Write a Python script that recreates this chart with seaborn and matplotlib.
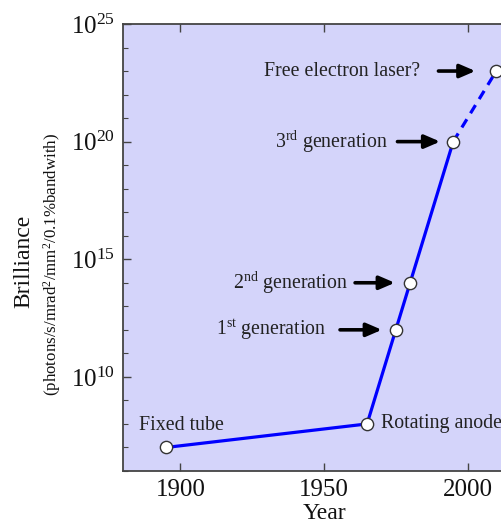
import matplotlib
matplotlib.use("Agg")
import matplotlib.pyplot as plt
import seaborn as sns
import numpy as np
import pandas as pd
from matplotlib.ticker import FixedLocator, LogFormatterMathtext, NullFormatter

# ---- data ----
years = [1895, 1965, 1975, 1980, 1995]
brilliance = [1e7, 1e8, 1e12, 1e14, 1e20]
proj_years = [1995, 2010]
proj_brilliance = [1e20, 1e23]
point_labels = ["Fixed tube", "Rotating anode", r"1$^{\rm st}$ generation",
                r"2$^{\rm nd}$ generation", r"3$^{\rm rd}$ generation",
                "Free electron laser?"]
x_ticks = [1900, 1950, 2000]
y_major = [1e10, 1e15, 1e20, 1e25]

sns.set_style("ticks", {"xtick.direction": "in", "ytick.direction": "in"})
plt.rcParams["font.family"] = ["Liberation Serif", "DejaVu Serif"]
plt.rcParams["mathtext.fontset"] = "custom"
plt.rcParams["mathtext.rm"] = "Liberation Serif"
plt.rcParams["mathtext.it"] = "Liberation Serif:italic"
plt.rcParams["mathtext.bf"] = "Liberation Serif:bold"

fig = plt.figure(figsize=(5.02, 5.26), dpi=100)
ax = fig.add_axes([0.245, 0.1046, 0.8008, 0.8498])
ax.set_facecolor("#d4d4fa")

df = pd.DataFrame({"year": years, "b": brilliance})
dfp = pd.DataFrame({"year": proj_years, "b": proj_brilliance})
sns.lineplot(data=df, x="year", y="b", ax=ax, color="#0000ff", lw=2.3, zorder=2)
sns.lineplot(data=dfp, x="year", y="b", ax=ax, color="#0000ff", lw=2.3,
             linestyle=(0, (3, 2.2)), zorder=2)
allx = years + proj_years[1:]
ally = brilliance + proj_brilliance[1:]
sns.scatterplot(x=allx, y=ally, ax=ax, s=78, color="white", edgecolor="#333333",
                linewidth=1.0, zorder=3)

ax.set_yscale("log")
ax.set_xlim(1880, 2020)
ax.set_ylim(1e6, 1e25)
ax.set_xticks(x_ticks)
ax.set_xticklabels([str(t) for t in x_ticks])
ax.yaxis.set_major_locator(FixedLocator(y_major))
ax.yaxis.set_major_formatter(LogFormatterMathtext())
ax.yaxis.set_minor_locator(FixedLocator([10.0 ** k for k in range(6, 25)]))
ax.yaxis.set_minor_formatter(NullFormatter())
ax.tick_params(axis="both", which="major", labelsize=18, length=6, width=1,
               color="#444444", labelcolor="#111111", top=True, right=True, pad=6)
ax.tick_params(axis="y", which="minor", length=3.5, width=0.8, color="#444444", right=True)
for s in ax.spines.values():
    s.set_color("#444444")
    s.set_linewidth(1.3)

ax.set_xlabel("Year", fontsize=17, labelpad=1, color="#111111")
ax.set_ylabel("")
fig.text(0.047, 0.503, "Brilliance", rotation=90, fontsize=17, ha="center", va="center", color="#111111")
fig.text(0.103, 0.497, r"(photons/s/mrad$^2$/mm$^2$/0.1%bandwith)", rotation=90, fontsize=12.2,
         ha="center", va="center", color="#111111")

tcol = "#222222"
fs = 14.3
# plain labels
ax.annotate(point_labels[0], xy=(years[0], brilliance[0]), xytext=(11, 16),
            textcoords="offset points", ha="center", va="center", fontsize=fs, color=tcol)
ax.annotate(point_labels[1], xy=(years[1], brilliance[1]), xytext=(10, 0),
            textcoords="offset points", ha="left", va="center", fontsize=fs, color=tcol)

# arrowed labels
arrow_specs = [
    (years[2], brilliance[2], point_labels[2], -50, 7.5, 10),
    (years[3], brilliance[3], point_labels[3], -45, 3.0, 11),
    (years[4], brilliance[4], point_labels[4], -47, 4.5, 9.4),
    (proj_years[1], proj_brilliance[1], point_labels[5], -55, 11, 15),
]
for x, y, lab, dx, sa, sb in arrow_specs:
    ax.annotate(lab, xy=(x, y), xytext=(dx, 0), textcoords="offset points",
                ha="right", va="center", fontsize=fs, color=tcol,
                arrowprops=dict(arrowstyle="-|>,head_length=0.65,head_width=0.28",
                                lw=2.6, color="black", shrinkA=sa, shrinkB=sb,
                                relpos=(1, 0.5)), zorder=4)

fig.savefig("out.png", dpi=100)
